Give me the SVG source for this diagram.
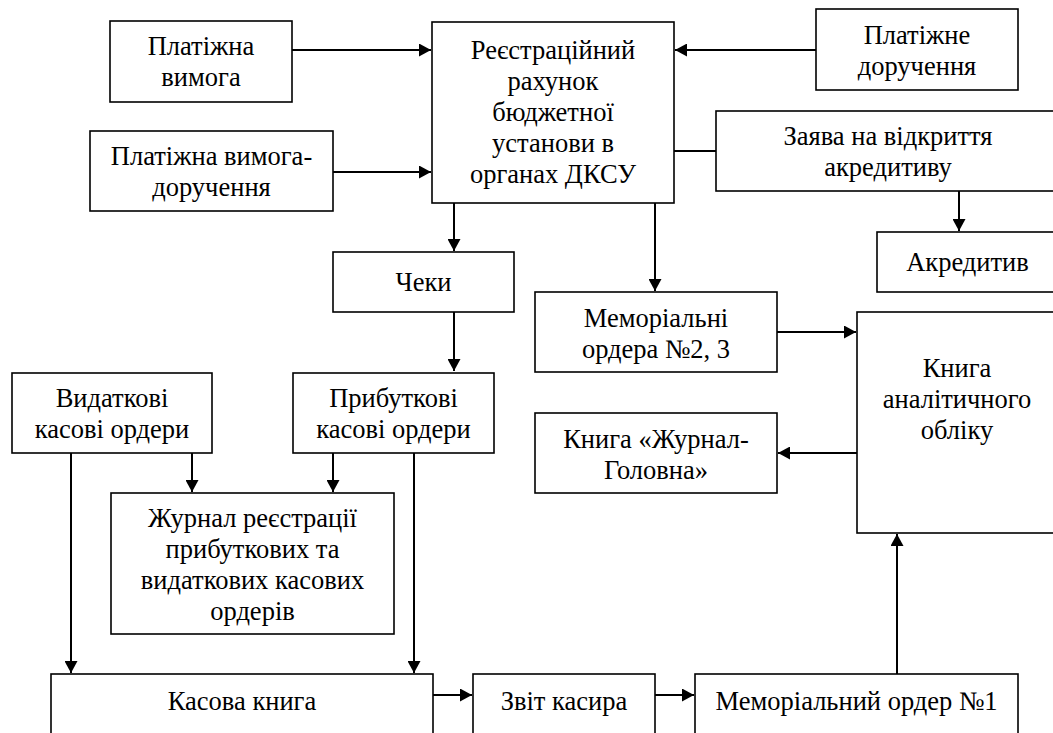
<svg xmlns="http://www.w3.org/2000/svg" width="1053" height="733" viewBox="0 0 1053 733">
  <style>
    .box { fill: #fff; stroke: #000; stroke-width: 1.6; }
    .lbl { font-size: 26.5px; fill: #000; text-anchor: middle; }
    .edge { fill: none; stroke: #000; stroke-width: 2; }
    .arr { marker-end: url(#head); }
  </style>
  <defs>
    <marker id="head" viewBox="0 0 12 13" refX="12" refY="6.5" markerWidth="12" markerHeight="13" markerUnits="userSpaceOnUse" orient="auto">
      <path d="M0,0 L12,6.5 L0,13 Z" fill="#000"/>
    </marker>
  </defs>

  <rect width="1053" height="733" fill="#fff"/>

  <!-- connectors -->
  <g id="connectors">
    <path class="edge arr" d="M292,50 H431"/>
    <path class="edge arr" d="M333,172 H431"/>
    <path class="edge arr" d="M816,50 H675"/>
    <path class="edge" d="M674,151 H716"/>
    <path class="edge arr" d="M959,191 V231"/>
    <path class="edge arr" d="M454,203 V251"/>
    <path class="edge arr" d="M655,203 V291"/>
    <path class="edge arr" d="M454,312 V371"/>
    <path class="edge arr" d="M777,332 H856"/>
    <path class="edge arr" d="M857,453 H778"/>
    <path class="edge arr" d="M71,453 V673"/>
    <path class="edge arr" d="M192,453 V492"/>
    <path class="edge arr" d="M333,453 V492"/>
    <path class="edge arr" d="M414,453 V673"/>
    <path class="edge arr" d="M433,695 H472"/>
    <path class="edge arr" d="M655,695 H694"/>
    <path class="edge arr" d="M897,674 V534"/>
  </g>

  <!-- nodes -->
  <g font-family="'Liberation Serif', Tinos, 'Times New Roman', Times, 'DejaVu Serif', serif">
  <g id="platizhna-vymoha">
    <rect class="box" x="110" y="21" width="182" height="81"/>
    <text class="lbl" x="201" y="55">Платіжна</text>
    <text class="lbl" x="201" y="86">вимога</text>
  </g>

  <g id="vymoha-doruchennia">
    <rect class="box" x="90" y="131" width="243" height="80"/>
    <text class="lbl" x="211.5" y="165">Платіжна вимога-</text>
    <text class="lbl" x="211.5" y="196">доручення</text>
  </g>

  <g id="reiestratsiinyi-rakhunok">
    <rect class="box" x="432" y="22" width="242" height="181"/>
    <text class="lbl" x="553" y="59">Реєстраційний</text>
    <text class="lbl" x="553" y="90">рахунок</text>
    <text class="lbl" x="553" y="121">бюджетної</text>
    <text class="lbl" x="553" y="152">установи в</text>
    <text class="lbl" x="553" y="183">органах ДКСУ</text>
  </g>

  <g id="platizhne-doruchennia">
    <rect class="box" x="816" y="9" width="202" height="81"/>
    <text class="lbl" x="917" y="44">Платіжне</text>
    <text class="lbl" x="917" y="75">доручення</text>
  </g>

  <g id="zaiava-akredytyv">
    <rect class="box" x="716" y="111" width="344" height="80"/>
    <text class="lbl" x="888" y="145">Заява на відкриття</text>
    <text class="lbl" x="888" y="176">акредитиву</text>
  </g>

  <g id="akredytyv">
    <rect class="box" x="877" y="232" width="183" height="60"/>
    <text class="lbl" x="967.5" y="271">Акредитив</text>
  </g>

  <g id="cheky">
    <rect class="box" x="333" y="252" width="181" height="60"/>
    <text class="lbl" x="423.5" y="291">Чеки</text>
  </g>

  <g id="memorialni-ordera">
    <rect class="box" x="535" y="292" width="242" height="80"/>
    <text class="lbl" x="656" y="327">Меморіальні</text>
    <text class="lbl" x="656" y="358">ордера №2, 3</text>
  </g>

  <g id="knyha-analitychnoho">
    <rect class="box" x="857" y="312" width="203" height="221"/>
    <text class="lbl" x="957" y="377">Книга</text>
    <text class="lbl" x="957" y="408">аналітичного</text>
    <text class="lbl" x="957" y="439">обліку</text>
  </g>

  <g id="knyha-zhurnal-holovna">
    <rect class="box" x="535" y="413" width="242" height="80"/>
    <text class="lbl" x="656" y="448">Книга «Журнал-</text>
    <text class="lbl" x="656" y="479">Головна»</text>
  </g>

  <g id="vydatkovi">
    <rect class="box" x="12" y="373" width="200" height="80"/>
    <text class="lbl" x="112" y="407">Видаткові</text>
    <text class="lbl" x="112" y="438">касові ордери</text>
  </g>

  <g id="prybutkovi">
    <rect class="box" x="293" y="373" width="201" height="80"/>
    <text class="lbl" x="393.5" y="407">Прибуткові</text>
    <text class="lbl" x="393.5" y="438">касові ордери</text>
  </g>

  <g id="zhurnal-reiestratsii">
    <rect class="box" x="111" y="493" width="283" height="141"/>
    <text class="lbl" x="252.5" y="527">Журнал реєстрації</text>
    <text class="lbl" x="252.5" y="558">прибуткових та</text>
    <text class="lbl" x="252.5" y="589">видаткових касових</text>
    <text class="lbl" x="252.5" y="620">ордерів</text>
  </g>

  <g id="kasova-knyha">
    <rect class="box" x="51" y="674" width="382" height="80"/>
    <text class="lbl" x="242" y="710">Касова книга</text>
  </g>

  <g id="zvit-kasyra">
    <rect class="box" x="473" y="674" width="182" height="80"/>
    <text class="lbl" x="564" y="710">Звіт касира</text>
  </g>

  <g id="memorialnyi-order-1">
    <rect class="box" x="695" y="674" width="323" height="80"/>
    <text class="lbl" x="856.5" y="710">Меморіальний ордер №1</text>
  </g>
  </g>
</svg>
